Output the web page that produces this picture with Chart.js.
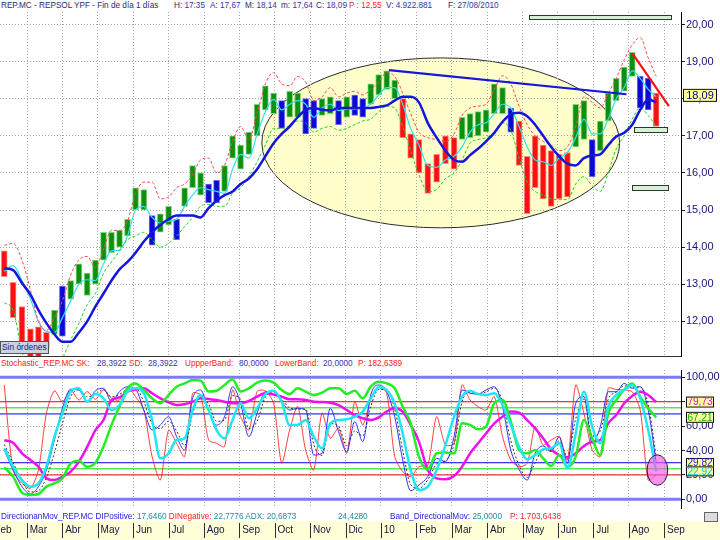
<!DOCTYPE html>
<html lang="es">
<head>
<meta charset="utf-8">
<title>REP.MC - REPSOL YPF</title>
<script src="https://cdn.jsdelivr.net/npm/chart.js@4.4.1/dist/chart.umd.min.js"></script>
<style>
  html, body { margin: 0; padding: 0; background: #fff; }
  body { position: relative; width: 720px; height: 540px; overflow: hidden; font-family: 'Liberation Sans', Arial, sans-serif; }
  canvas { position: absolute; left: 0; }
  #precio { top: 12px; }
  #estocastico { top: 370px; }
  .fila { position: absolute; left: 0; width: 720px; height: 12px; font-size: 8.2px; white-space: nowrap; }
  .fila > span { position: absolute; top: 1px; }
  #sinOrdenes { position: absolute; left: 0; top: 341px; width: 46px; height: 11px; background: #c8d4e4; border: 1px solid #555; font-size: 8.4px; color: #1a1a60; line-height: 11px; padding-left: 1px; }
  #icono { position: absolute; left: 704px; top: 512px; width: 12px; height: 8px; border: 1px solid #666; background: #ddd; }
</style>
</head>
<body>
<div class="fila" id="cabecera" style="top:0"></div>
<canvas id="precio" width="720" height="345"></canvas>
<div id="sinOrdenes">Sin órdenes</div>
<div class="fila" id="cabEst" style="top:358px"></div>
<canvas id="estocastico" width="720" height="170"></canvas>
<div class="fila" id="cabDmi" style="top:511px"></div>
<div id="icono"></div>
<script>
// semanas: un punto por semana (miércoles) desde el 11/02/2009 hasta el 25/08/2010
const semanas = [];
for (let i = 0; i < 81; i++) semanas.push(new Date(Date.UTC(2009, 1, 11 + 7 * i)));

const meses = ['Feb', 'Mar', 'Abr', 'May', 'Jun', 'Jul', 'Ago', 'Sep', 'Oct', 'Nov', 'Dic', '10',
               'Feb', 'Mar', 'Abr', 'May', 'Jun', 'Jul', 'Ago', 'Sep'];
const ticksPrecio = [12, 13, 14, 15, 16, 17, 18, 19, 20];
const ticksEst = [0, 20, 40, 60, 80, 100];

// rango semanal de precios (máximo / mínimo)
const maximos = [13.9, 13.05, 12.4, 11.8, 11.85, 11.7, 12.3, 12.95, 13.1, 13.55,
  13.3, 13.65, 14.4, 14.4, 14.45, 14.75, 15.6, 15.55, 14.85, 14.9,
  15.1, 14.75, 15.6, 16.2, 16.0, 15.7, 15.8, 16.2, 17.0, 16.75,
  17.1, 17.85, 18.35, 18.15, 17.95, 18.2, 18.15, 18.0, 17.95, 18.0,
  18.05, 17.95, 18.05, 18.1, 18.0, 18.4, 18.65, 18.75, 18.5, 18.0,
  17.05, 16.9, 16.25, 16.5, 17.0, 16.95, 17.5, 17.6, 17.65, 17.7,
  18.4, 18.3, 17.75, 17.4, 16.45, 17.0, 16.75, 16.6, 16.5, 16.55,
  17.85, 17.95, 16.9, 17.4, 18.15, 18.55, 18.85, 19.25, 18.6, 18.55, 18.15];
const minimos = [13.2, 12.1, 11.25, 10.9, 11.0, 11.25, 11.65, 11.6, 12.6, 13.0,
  12.7, 13.0, 13.65, 13.85, 14.0, 14.3, 15.0, 15.0, 14.05, 14.4,
  14.6, 14.2, 15.1, 15.6, 15.4, 15.2, 15.2, 15.5, 16.4, 16.1,
  16.5, 17.0, 17.7, 17.6, 17.2, 17.5, 17.5, 17.05, 17.2, 17.55,
  17.6, 17.3, 17.5, 17.55, 17.5, 17.85, 18.1, 18.25, 18.0, 16.95,
  16.4, 16.0, 15.45, 15.75, 16.25, 16.1, 16.9, 16.95, 17.0, 17.1,
  17.6, 17.6, 17.1, 16.2, 14.9, 15.6, 15.3, 15.1, 15.3, 15.35,
  16.7, 16.9, 15.9, 16.6, 17.4, 17.95, 18.2, 18.6, 17.75, 17.7, 17.25];
// color de las barras por tramos: g = alcista, r = bajista, b = neutro
const tramos = [['r', 6], ['g', 1], ['b', 1], ['g', 10], ['b', 1], ['g', 2], ['b', 1], ['g', 3], ['b', 2],
  ['g', 7], ['b', 1], ['g', 2], ['b', 2], ['g', 2], ['b', 1], ['g', 1], ['b', 2], ['g', 4], ['r', 7],
  ['g', 6], ['b', 1], ['r', 7], ['g', 2], ['b', 1], ['g', 5], ['b', 2], ['r', 1]];

const bandaSup = [14.05, 14.1, 13.65, 12.85, 12.0, 11.75, 12.1, 12.55, 13.25, 13.65,
  13.75, 13.45, 13.95, 14.45, 14.45, 14.7, 15.45, 15.75, 15.75, 15.3,
  15.35, 15.6, 15.7, 15.95, 16.35, 16.4, 16.0, 16.2, 16.85, 17.25,
  16.9, 17.6, 18.4, 18.7, 18.4, 18.35, 18.6, 18.45, 17.95, 18.05,
  18.3, 18.05, 18.15, 18.2, 18.1, 18.25, 18.45, 18.7, 18.6, 18.15,
  17.6, 17.1, 16.95, 16.9, 16.85, 17.05, 17.55, 17.75, 17.8, 17.85,
  18.25, 18.62, 18.4, 17.8, 17.3, 17.0, 16.85, 16.75, 16.6, 16.7,
  17.25, 18.05, 17.9, 17.75, 18.15, 18.55, 19.05, 19.45, 19.65, 19.1, 18.6];
const bandaInf = [12.5, 12.3, 11.2, 10.6, 10.3, 10.4, 10.7, 11.0, 11.5, 11.95,
  12.45, 12.75, 13.3, 13.6, 13.9, 14.2, 14.3, 14.4, 14.2, 14.0,
  14.1, 14.3, 14.55, 14.8, 15.1, 15.15, 15.1, 15.1, 15.45, 15.6,
  15.9, 16.3, 16.75, 17.2, 17.2, 17.28, 17.4, 17.35, 17.1, 17.2,
  17.25, 17.15, 17.2, 17.3, 17.4, 17.45, 17.65, 17.8, 17.75, 17.25,
  16.6, 15.95, 15.5, 15.55, 15.85, 16.0, 16.35, 16.8, 16.9, 16.95,
  17.1, 17.35, 17.15, 16.4, 15.75, 15.5, 15.4, 15.3, 15.28, 15.28,
  15.7, 15.9, 15.65, 15.5, 16.0, 16.65, 17.0, 17.45, 17.75, 17.55, 17.25];
const bandaMedia = [13.35, 13.5, 13.1, 12.6, 12.0, 11.72, 11.7, 12.1, 12.55, 13.0,
  13.12, 13.1, 13.55, 13.9, 13.92, 14.3, 15.0, 15.1, 14.8, 14.65,
  14.7, 14.75, 15.1, 15.4, 15.6, 15.55, 15.5, 15.45, 16.1, 16.5,
  16.4, 17.05, 17.65, 17.98, 17.7, 17.85, 17.95, 17.85, 17.5, 17.75,
  17.85, 17.68, 17.72, 17.72, 17.75, 17.85, 18.1, 18.3, 18.3, 17.85,
  17.2, 16.75, 16.2, 16.15, 16.35, 16.45, 16.7, 17.1, 17.3, 17.35,
  17.6, 17.85, 17.75, 17.25, 16.7, 16.35, 16.3, 16.2, 16.4, 16.55,
  16.95, 17.45, 17.05, 17.05, 17.45, 18.0, 18.3, 18.75, 18.55, 18.25, 18.05];
const media = [13.43, 13.38, 13.03, 12.72, 12.3, 11.95, 11.65, 11.45, 11.45, 11.7,
  12.0, 12.4, 12.75, 13.1, 13.4, 13.6, 13.85, 14.15, 14.4, 14.6,
  14.75, 14.85, 14.85, 14.85, 14.8, 15.05, 15.25, 15.4, 15.5, 15.7,
  15.85, 16.1, 16.45, 16.8, 17.05, 17.25, 17.5, 17.7, 17.75, 17.7,
  17.68, 17.75, 17.75, 17.75, 17.75, 17.75, 17.78, 17.82, 17.95, 18.05,
  18.05, 17.9, 17.35, 16.95, 16.6, 16.35, 16.3, 16.48, 16.65, 16.85,
  17.08, 17.38, 17.58, 17.62, 17.53, 17.3, 17.0, 16.7, 16.45, 16.25,
  16.2, 16.4, 16.47, 16.5, 16.75, 16.98, 17.08, 17.3, 17.7, 17.98, 17.9];

// estocástico
const estRapida = [93.7, 24, 13.1, 9, 24, 70.5, 89, 80, 89.6, 81.4,
  88.3, 82, 89.6, 82.8, 81.4, 91.8, 84.2, 73.2, 35, 15.8,
  56.8, 45.9, 35, 86.9, 85.5, 48.6, 45.9, 43.2, 89.6, 67.8,
  56.8, 88.3, 89, 78.7, 29.5, 56.8, 76, 40.4, 24, 70.5,
  50, 58.2, 37.7, 80, 60.9, 81.4, 91.8, 86.9, 35, 22.7,
  18.6, 26.8, 28.1, 67.8, 44.5, 45.9, 93.7, 81.4, 76, 73.2,
  84.2, 51.4, 32.2, 26.8, 29.5, 59.6, 44.5, 48.6, 51.4, 32.2,
  93.7, 70.5, 40.4, 35, 91, 90, 89.6, 88.2, 73.2, 15.8, 20];
const estK = [40.4, 24, 10.4, 4.4, 10.4, 24, 48.6, 74.6, 90.2, 89.6,
  80, 89, 91, 80, 88.3, 92.3, 90.4, 73.2, 56.8, 60.9,
  67.8, 51.4, 40.4, 82.8, 89.6, 73.2, 60.9, 67.8, 92.3, 78.7,
  51.4, 70.5, 88.3, 88.3, 80, 73.2, 74.6, 73.2, 36.3, 37.7,
  74.6, 55.5, 39, 63.7, 47.3, 85.5, 93.7, 88.3, 67.8, 32.2,
  7.1, 11.7, 18.6, 33.6, 30.9, 51.4, 89.6, 86.9, 86.3, 89.6,
  92.3, 76, 40.4, 24.6, 15.8, 37.7, 43.7, 39, 51.4, 29.5,
  78.7, 84.2, 45.9, 59.5, 88.2, 88.2, 95, 91, 92.3, 73.2, 29.82];
const estD = [45, 30, 15, 6, 7, 18, 38, 62, 84, 90,
  84, 86, 90, 84, 86, 90, 91, 80, 62, 58,
  64, 56, 44, 70, 86, 78, 64, 65, 85, 82,
  58, 64, 84, 88, 82, 75, 74, 74, 45, 36,
  62, 60, 44, 56, 52, 76, 90, 90, 74, 40,
  12, 9, 16, 29, 32, 45, 80, 88, 86, 88,
  91, 80, 48, 28, 18, 30, 41, 40, 48, 35,
  66, 82, 52, 56, 82, 88, 93, 92, 92, 78, 35];
const estCian = [41.8, 26.8, 15.8, 10.4, 13.1, 26.8, 51.4, 70.5, 88.3, 91,
  80, 86.3, 82.8, 73.2, 77.3, 88.3, 91, 86.9, 65, 33.6,
  37.7, 48.6, 50, 73.2, 85.5, 73.2, 56.8, 50, 65, 78.7,
  66.4, 74.6, 86.3, 89, 80, 60.9, 60.9, 65, 51.4, 41.8,
  62.3, 65, 65.6, 67.8, 71.9, 82.8, 91.8, 89.6, 78.7, 54,
  24, 7.7, 10.4, 24, 44.5, 67.8, 84.2, 89, 86.3, 85.5,
  86.9, 77.3, 61, 43.2, 32.8, 36.3, 41, 41.8, 45.9, 25.4,
  54, 88.2, 59.5, 45.9, 75.9, 85.5, 89.6, 93.7, 82.8, 56.8, 22.92];
const estVerde = [26.2, 18.6, 5.5, 3.6, 4.4, 10.4, 13.1, 17.2, 29.5, 31.7,
  26.8, 30, 43.2, 61, 76, 91, 95, 89.6, 82.8, 78.7,
  85.5, 92.3, 95, 97.8, 97.3, 88.3, 89, 93.7, 98.4, 88.3,
  91, 95.6, 97.3, 95.6, 89.6, 86.3, 91, 88.3, 85.5, 87.4,
  91, 91, 86.3, 89, 82.8, 92.3, 96.4, 95, 91, 76,
  62.3, 35, 24.6, 37.7, 38.3, 37.7, 62.3, 61, 57.4, 59.6,
  78.7, 81.4, 63.7, 40.4, 37.7, 40.4, 33.6, 27.3, 36.3, 26.7,
  35, 65, 50, 36.3, 70.5, 81.4, 90, 95, 84.2, 74.6, 67.21];
const estMagenta = [48.4, 46.4, 37.7, 32.2, 26.8, 17.2, 15.8, 18.6, 22.7, 30.9,
  43, 56.8, 65, 81.4, 83.6, 88.3, 90, 91, 86.9, 82.8,
  79.5, 77.3, 77.9, 80, 82.8, 82.2, 81.4, 80, 78.7, 78.7,
  80.6, 84.2, 86.9, 86, 84.2, 82, 82, 81.4, 80, 79.8,
  79.2, 77.3, 73.2, 69, 66.4, 65, 67.2, 71.9, 74.6, 71.9,
  61, 47.3, 24, 17.2, 16.4, 19.1, 26.8, 37.7, 45.9, 54,
  62.3, 67.8, 71.9, 71, 65, 58.2, 50, 41, 36.3, 34.4,
  37.7, 43.7, 47.2, 48.6, 62.3, 69.1, 78.7, 84.7, 88.2, 85.5, 79.73];
const niveles = [100, 80, 75, 70, 30, 25, 20, 0];

// dibujos sobre el gráfico
const elipse = { desde: '2009-09-20', hasta: '2010-07-24', arriba: 19.1, abajo: 14.52 };
const tendenciaAzul = [['2010-01-08', 18.77], ['2010-07-30', 18.12]];
const tendenciaRoja = [['2010-08-04', 19.23], ['2010-09-05', 17.8]];
const cajas = [['2010-05-07', '2010-09-07', 20.26, 20.14],
               ['2010-08-06', '2010-09-04', 17.24, 17.1],
               ['2010-08-04', '2010-09-04', 15.67, 15.54]];
const marcaEst = { desde: '2010-08-17', hasta: '2010-09-04', arriba: 36.5, abajo: 11.5 };
const ultimoPrecio = 18.09;

// fecha -> posición en meses (1 = marzo 2009)
function posMes(d) {
  if (typeof d === 'string') d = new Date(d + 'T00:00:00Z');
  const y = d.getUTCFullYear(), m = d.getUTCMonth();
  const dias = new Date(Date.UTC(y, m + 1, 0)).getUTCDate();
  return (y - 2009) * 12 + m - 1 + (d.getUTCDate() - 1) / dias;
}
const coma = v => v.toFixed(2).replace('.', ',');
const serie = arr => semanas.map((d, i) => ({ x: posMes(d), y: arr[i] }));

const colores = [];
tramos.forEach(([c, n]) => { for (let k = 0; k < n; k++) colores.push(c); });
const COLOR_BARRA = { g: '#0e900e', r: '#ff1010', b: '#0a0ad0' };
const BORDE_BARRA = { g: '#7fd87f', r: '#ff8a8a', b: '#6a6aff' };

const X_MIN = 0.237, X_MAX = 19.475;

Chart.defaults.font.family = "'Liberation Sans', Arial, sans-serif";
Chart.defaults.font.size = 11;
Chart.defaults.animation = false;
Chart.defaults.plugins.legend.display = false;
Chart.defaults.plugins.tooltip.enabled = false;

function ejeX(conEtiquetas) {
  return {
    type: 'linear', min: X_MIN, max: X_MAX, offset: false,
    afterBuildTicks: s => { s.ticks = meses.map((m, i) => ({ value: i })); },
    afterFit: s => { s.height = conEtiquetas ? 32 : 1; s.paddingLeft = 0; s.paddingRight = 0; },
    grid: { color: '#a8a8a8', drawTicks: false, offset: false },
    border: { display: !conEtiquetas, color: '#333', dash: [1, 2] },
    ticks: {
      display: conEtiquetas, autoSkip: false, maxRotation: 0, align: 'start',
      padding: 16, color: '#14143c', font: { size: 10 },
      callback: v => ' ' + meses[v]
    }
  };
}
function ejeY(min, max, valores) {
  return {
    position: 'right', min: min, max: max,
    afterBuildTicks: s => { s.ticks = valores.map(v => ({ value: v })); },
    afterFit: s => { s.width = 39; s.paddingTop = 0; s.paddingBottom = 0; },
    grid: { color: '#a8a8a8', tickColor: '#222', tickLength: 4 },
    border: { color: '#000', dash: [1, 2] },
    ticks: { color: '#14147a', padding: 1, font: { size: 11 }, callback: v => coma(v) }
  };
}

function cajaValor(ctx, x, yc, w, h, texto, color, tam) {
  ctx.fillStyle = '#ffffa0';
  ctx.fillRect(x, yc - h / 2, w, h);
  ctx.strokeStyle = '#111';
  ctx.lineWidth = 1;
  ctx.strokeRect(x + 0.5, yc - h / 2 + 0.5, w - 1, h - 1);
  ctx.fillStyle = color;
  ctx.font = tam + "px 'Liberation Sans', Arial, sans-serif";
  ctx.textAlign = 'center';
  ctx.textBaseline = 'middle';
  ctx.fillText(texto, x + w / 2, yc + 0.5);
}

const dibujosPrecio = {
  id: 'dibujosPrecio',
  beforeDraw(chart) {
    const { ctx, scales: { x, y } } = chart;
    const x0 = x.getPixelForValue(posMes(elipse.desde)), x1 = x.getPixelForValue(posMes(elipse.hasta));
    const y0 = y.getPixelForValue(elipse.arriba), y1 = y.getPixelForValue(elipse.abajo);
    ctx.save();
    ctx.beginPath();
    ctx.ellipse((x0 + x1) / 2, (y0 + y1) / 2, (x1 - x0) / 2, (y1 - y0) / 2, 0, 0, Math.PI * 2);
    ctx.fillStyle = '#ffffcc';
    ctx.fill();
    ctx.strokeStyle = '#2a2a2a';
    ctx.lineWidth = 1;
    ctx.stroke();
    ctx.restore();
  },
  afterDraw(chart) {
    const { ctx, scales: { x, y } } = chart;
    ctx.save();
    cajas.forEach(([d0, d1, p0, p1]) => {
      const a = x.getPixelForValue(posMes(d0)), b = x.getPixelForValue(posMes(d1));
      const t = y.getPixelForValue(p0), u = y.getPixelForValue(p1);
      ctx.fillStyle = '#d4f2d4';
      ctx.fillRect(a, t, b - a, u - t);
      ctx.strokeStyle = '#333';
      ctx.lineWidth = 1;
      ctx.strokeRect(Math.round(a) + 0.5, Math.round(t) + 0.5, Math.round(b - a), Math.round(u - t));
    });
    cajaValor(ctx, chart.chartArea.right + 2, y.getPixelForValue(ultimoPrecio), 34, 13, coma(ultimoPrecio), '#000080', 11);
    ctx.restore();
  }
};

const dibujosEst = {
  id: 'dibujosEst',
  beforeDraw(chart) {
    const { ctx, scales: { x } } = chart;
    ctx.save();
    ctx.fillStyle = '#ffffd8';
    ctx.fillRect(0, 151, chart.width, chart.height - 151);
    ctx.strokeStyle = '#303030';
    ctx.lineWidth = 1;
    meses.forEach((m, i) => {
      const px = Math.round(x.getPixelForValue(i)) + 0.5;
      ctx.beginPath();
      ctx.moveTo(px, 153);
      ctx.lineTo(px, 168);
      ctx.stroke();
    });
    ctx.restore();
  },
  afterDatasetsDraw(chart) {
    const { ctx, scales: { x, y } } = chart;
    const x0 = x.getPixelForValue(posMes(marcaEst.desde)), x1 = x.getPixelForValue(posMes(marcaEst.hasta));
    const y0 = y.getPixelForValue(marcaEst.arriba), y1 = y.getPixelForValue(marcaEst.abajo);
    ctx.save();
    ctx.beginPath();
    ctx.ellipse((x0 + x1) / 2, (y0 + y1) / 2, (x1 - x0) / 2, (y1 - y0) / 2, 0, 0, Math.PI * 2);
    ctx.fillStyle = 'rgba(240, 90, 230, 0.65)';
    ctx.fill();
    ctx.strokeStyle = '#222';
    ctx.stroke();
    ctx.restore();
  },
  afterDraw(chart) {
    const { ctx, scales: { y } } = chart;
    const r = chart.chartArea.right + 5;
    const ult = a => a[a.length - 1];
    ctx.save();
    cajaValor(ctx, r, y.getPixelForValue(ult(estMagenta)), 28, 11, coma(ult(estMagenta)), '#e000e0', 10);
    cajaValor(ctx, r, y.getPixelForValue(ult(estVerde)), 28, 11, coma(ult(estVerde)), '#00b000', 10);
    cajaValor(ctx, r, y.getPixelForValue(ult(estK)), 28, 10, coma(ult(estK)), '#2020ff', 10);
    cajaValor(ctx, r, y.getPixelForValue(ult(estCian)), 28, 10, coma(ult(estCian)), '#00c0e0', 10);
    ctx.restore();
  }
};

const linea = (arr, color, ancho, extra) => Object.assign({
  type: 'line', data: serie(arr), borderColor: color, borderWidth: ancho,
  pointRadius: 0, fill: false, cubicInterpolationMode: 'monotone'
}, extra || {});
const recta = (puntos, color, ancho) => ({
  type: 'line', data: puntos.map(([d, p]) => ({ x: posMes(d), y: p })),
  borderColor: color, borderWidth: ancho, pointRadius: 0, order: 0
});

new Chart(document.getElementById('precio'), {
  type: 'line',
  data: {
    datasets: [
      {
        type: 'bar',
        data: semanas.map((d, i) => ({ x: posMes(d), y: [minimos[i], maximos[i]] })),
        backgroundColor: colores.map(c => COLOR_BARRA[c]),
        borderColor: colores.map(c => BORDE_BARRA[c]),
        borderWidth: 1, borderSkipped: false,
        barThickness: 6, order: 5
      },
      linea(bandaSup, '#ff4a4a', 1, { borderDash: [3, 2], order: 3 }),
      linea(bandaInf, '#1fd41f', 1, { borderDash: [3, 2], order: 3 }),
      linea(bandaMedia, '#33e0f0', 1.2, { order: 3 }),
      linea(media, '#1515e0', 2.5, { order: 1 }),
      recta(tendenciaAzul, '#1515e0', 2.2),
      recta(tendenciaRoja, '#ff1010', 2.2)
    ]
  },
  options: {
    responsive: false,
    layout: { padding: 0 },
    scales: { x: ejeX(false), y: ejeY(11.065, 20.337, ticksPrecio) }
  },
  plugins: [dibujosPrecio]
});

const COLOR_NIVEL = { 100: ['#7b7bff', 3], 0: ['#7b7bff', 3], 80: ['#ff0000', 1], 20: ['#ff0000', 1],
                      75: ['#00e000', 1], 25: ['#00e000', 1], 70: ['#0000ff', 1], 30: ['#0000ff', 1] };

new Chart(document.getElementById('estocastico'), {
  type: 'line',
  data: {
    datasets: niveles.map(v => ({
      data: [{ x: X_MIN, y: v }, { x: X_MAX, y: v }],
      borderColor: COLOR_NIVEL[v][0], borderWidth: COLOR_NIVEL[v][1], pointRadius: 0, order: 10
    })).concat([
      linea(estRapida, 'rgba(255, 30, 30, 0.85)', 1, { order: 6, cubicInterpolationMode: 'default', tension: 0.25 }),
      linea(estK, '#3030ff', 1, { order: 5 }),
      linea(estD, '#333', 1, { borderDash: [2, 2], order: 4 }),
      linea(estMagenta, '#ee10ee', 2.5, { order: 3 }),
      linea(estVerde, '#22ee22', 2.5, { order: 2 }),
      linea(estCian, '#1ee6f4', 2.5, { order: 1 })
    ])
  },
  options: {
    responsive: false,
    layout: { padding: 0 },
    scales: { x: ejeX(true), y: ejeY(-7.1, 106, ticksEst) }
  },
  plugins: [dibujosEst]
});

// textos de cabecera: grupos [x, [[texto, color], ...]]
function cabecera(id, grupos) {
  const el = document.getElementById(id);
  grupos.forEach(([x, trozos]) => {
    const g = document.createElement('span');
    g.style.left = x + 'px';
    trozos.forEach(([texto, color]) => {
      const s = document.createElement('span');
      s.style.color = color;
      s.textContent = texto;
      g.appendChild(s);
    });
    el.appendChild(g);
  });
}
const ET = '#2b2b6b', VA = '#3535a8', RO = '#ff2020', AZ = '#1c1ce0', TE = '#1f8f9f';
cabecera('cabecera', [
  [1, [['REP.MC - REPSOL YPF - Fin de día 1 días', ET]]],
  [174, [['H: ', ET], ['17:35', VA]]],
  [210, [['A: ', ET], ['17,67', VA]]],
  [245, [['M: ', ET], ['18,14', VA]]],
  [281, [['m: ', ET], ['17,64', VA]]],
  [316, [['C: ', ET], ['18,09', VA]]],
  [349, [['P : 12,55', RO]]],
  [386, [['V: ', ET], ['4.922.881', VA]]],
  [448, [['F: ', ET], ['27/08/2010', VA]]]
]);
cabecera('cabEst', [
  [1, [['Stochastic_REP.MC SK:', RO]]], [97, [['28,3922', VA]]],
  [129, [['SD:', RO]]], [148, [['28,3922', VA]]],
  [185, [['UppperBand:', RO]]], [239, [['80,0000', VA]]],
  [275, [['LowerBand:', RO]]], [323, [['20,0000', VA]]],
  [358, [['P: 182,6389', RO]]]
]);
cabecera('cabDmi', [
  [1, [['DirectionanMov_REP.MC DIPositive: ', AZ], ['17,6460 ', TE], ['DINegative: ', RO], ['22,7776 ', TE], ['ADX: 20,6873', TE]]],
  [338, [['24,4280', TE]]],
  [390, [['Band_DirectionalMov: ', AZ], ['25,0000', TE]]],
  [510, [['P: 1.703,6438', RO]]]
]);
</script>
</body>
</html>
